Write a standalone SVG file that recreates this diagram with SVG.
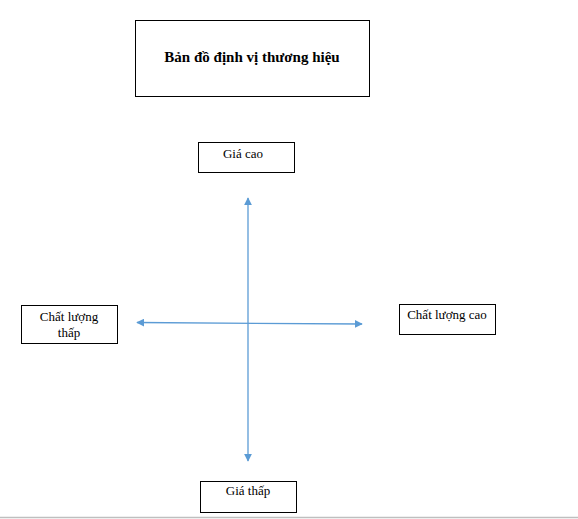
<svg xmlns="http://www.w3.org/2000/svg" width="578" height="519" viewBox="0 0 578 519">
<style>
.box{fill:#fff;stroke:#000;stroke-width:1}
.t{font-family:"Liberation Serif","Times New Roman",Times,"DejaVu Serif",serif;font-size:13px;fill:#000}
.b{font-weight:bold;font-size:15px}
.c{stroke:#5b9bd5;stroke-width:1.3;fill:none}
</style>
<defs>
<marker id="ah" viewBox="0 0 10 10" refX="9" refY="5" markerWidth="8" markerHeight="8" markerUnits="userSpaceOnUse" orient="auto-start-reverse">
<path d="M0,0 L10,5 L0,10 z" fill="#5b9bd5"/>
</marker>
</defs>
<rect width="578" height="519" fill="#fff"/>
<g id="title">
<rect class="box" x="135.5" y="20.5" width="234" height="76"/>
<text class="t b" x="252" y="62" text-anchor="middle">Bản đồ định vị thương hiệu</text>
</g>
<g id="gia-cao">
<rect class="box" x="198.5" y="142.5" width="96" height="30"/>
<text class="t" x="243" y="158" text-anchor="middle">Giá cao</text>
</g>
<g id="chat-luong-thap">
<rect class="box" x="21.5" y="305.5" width="96" height="38"/>
<text class="t" x="69" y="321" text-anchor="middle">Chất lượng</text>
<text class="t" x="69" y="337" text-anchor="middle">thấp</text>
</g>
<g id="chat-luong-cao">
<rect class="box" x="399.5" y="304.5" width="96" height="30"/>
<text class="t" x="447" y="319" text-anchor="middle">Chất lượng cao</text>
</g>
<g id="gia-thap">
<rect class="box" x="200.5" y="481.5" width="96" height="31"/>
<text class="t" x="248" y="495" text-anchor="middle">Giá thấp</text>
</g>
<g id="connectors">
<line class="c" x1="248" y1="198" x2="248" y2="461" marker-start="url(#ah)" marker-end="url(#ah)"/>
<line class="c" x1="137" y1="322.5" x2="362" y2="324" marker-start="url(#ah)" marker-end="url(#ah)"/>
</g>
<line x1="0" y1="517.5" x2="578" y2="517.5" stroke="#bfbfbf" stroke-width="1.5"/>
</svg>
